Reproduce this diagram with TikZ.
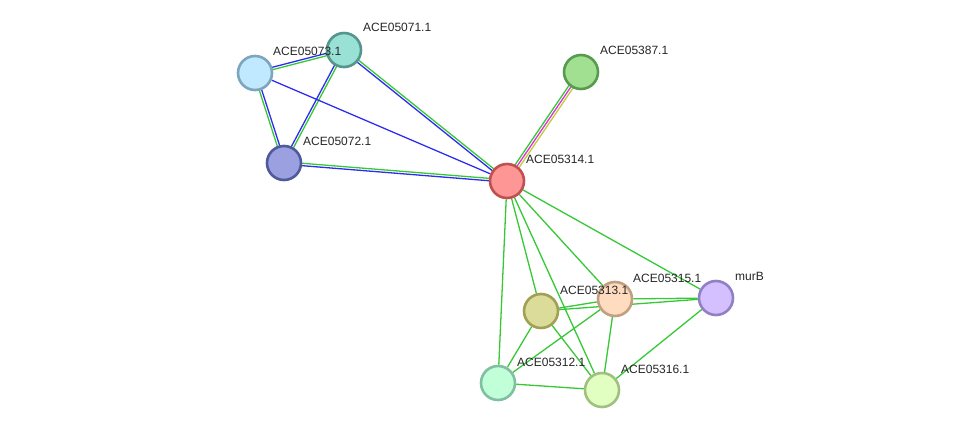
\documentclass[tikz,border=0pt]{standalone}
\usepackage{fontspec}
\setmainfont{Liberation Sans}
\usetikzlibrary{calc,backgrounds}
\definecolor{eg}{RGB}{55,200,55}
\definecolor{eb}{RGB}{45,45,240}
\definecolor{em}{RGB}{220,50,220}
\definecolor{ey}{RGB}{200,200,60}
\tikzset{
  prot/.style={circle,minimum size=34pt,inner sep=0pt,line width=2.6pt},
  lab/.style={anchor=west,font=\fontsize{12pt}{14pt}\selectfont,inner sep=0pt,text=black!85},
  edgeline/.style={line width=1.3pt}
}
\newcommand{\pedge}[4]{\draw[edgeline,#4] ($(#1)!#3!90:(#2)$) -- ($(#2)!#3!-90:(#1)$);}
\begin{document}
\begin{tikzpicture}[x=1pt,y=-1pt]
\useasboundingbox (0,0) rectangle (976,436);
% nodes
\node[prot,fill={rgb,255:red,153;green,224;blue,213},draw={rgb,255:red,85;green,150;blue,140}] (n71) at (344,50) {};
\node[prot,fill={rgb,255:red,192;green,232;blue,255},draw={rgb,255:red,125;green,165;blue,190}] (n73) at (255,73) {};
\node[prot,fill={rgb,255:red,154;green,160;blue,224},draw={rgb,255:red,80;green,90;blue,155}] (n72) at (284,163) {};
\node[prot,fill={rgb,255:red,160;green,224;blue,144},draw={rgb,255:red,88;green,155;blue,80}] (n387) at (581,72) {};
\node[prot,fill={rgb,255:red,255;green,150;blue,150},draw={rgb,255:red,190;green,80;blue,80}] (n314) at (507,181) {};
\node[prot,fill={rgb,255:red,220;green,220;blue,154},draw={rgb,255:red,160;green,160;blue,85}] (n313) at (541,311) {};
\node[prot,fill={rgb,255:red,255;green,220;blue,192},draw={rgb,255:red,192;green,160;blue,128}] (n315) at (615,299) {};
\node[prot,fill={rgb,255:red,212;green,192;blue,255},draw={rgb,255:red,145;green,128;blue,195}] (nmurB) at (716,298) {};
\node[prot,fill={rgb,255:red,192;green,255;blue,216},draw={rgb,255:red,128;green,192;blue,160}] (n312) at (498,383) {};
\node[prot,fill={rgb,255:red,224;green,255;blue,192},draw={rgb,255:red,160;green,192;blue,128}] (n316) at (602,390) {};
% labels
\node[lab] (l71) at (363,27) {ACE05071.1};
\node[lab] (l73) at (273,51) {ACE05073.1};
\node[lab] (l72) at (303,141) {ACE05072.1};
\node[lab] (l387) at (600,50) {ACE05387.1};
\node[lab] (l314) at (526,159) {ACE05314.1};
\node[lab] (l313) at (560,290) {ACE05313.1};
\node[lab] (l315) at (633,278) {ACE05315.1};
\node[lab] (lmurB) at (735,276) {murB};
\node[lab] (l312) at (517,362) {ACE05312.1};
\node[lab] (l316) at (621,369) {ACE05316.1};
% edges
\begin{pgfonlayer}{background}
\pedge{n71}{n314}{1.2pt}{eg}
\pedge{n71}{n314}{-1.2pt}{eb}
\pedge{n72}{n314}{1.2pt}{eg}
\pedge{n72}{n314}{-1.2pt}{eb}
\pedge{n73}{n71}{1.2pt}{eb}
\pedge{n73}{n71}{-1.2pt}{eg}
\pedge{n73}{n72}{1.2pt}{eb}
\pedge{n73}{n72}{-1.2pt}{eg}
\pedge{n71}{n72}{1.2pt}{eg}
\pedge{n71}{n72}{-1.2pt}{eb}
\draw[edgeline,eb] (n73) -- (n314);
\pedge{n314}{n387}{2.4pt}{eg}
\pedge{n314}{n387}{0pt}{em}
\pedge{n314}{n387}{-2.4pt}{ey}
\foreach \a/\b in {n314/n313,n314/n315,n314/nmurB,n314/n312,n314/n316,
  n313/n315,n313/nmurB,n315/nmurB,n313/n312,n313/n316,n315/n312,n315/n316,
  nmurB/n316,n312/n316}
  \draw[edgeline,eg] (\a) -- (\b);
\end{pgfonlayer}
\end{tikzpicture}
\end{document}
